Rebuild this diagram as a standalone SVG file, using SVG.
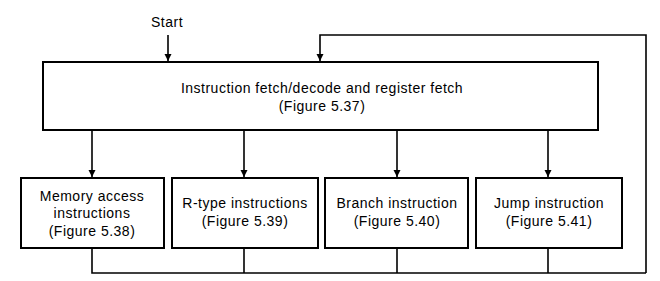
<svg xmlns="http://www.w3.org/2000/svg" width="660" height="281" viewBox="0 0 660 281">
<style>
.box{fill:#fff;stroke:#000;stroke-width:2}
.ln{fill:none;stroke:#000;stroke-width:1.6}
text{font-family:"Liberation Sans",Arial,sans-serif;font-size:14px;letter-spacing:0.5px;fill:#000;text-anchor:middle}
</style>
<defs>
<marker id="ah" markerWidth="8" markerHeight="8" refX="7" refY="4" orient="auto" markerUnits="userSpaceOnUse">
<path d="M0,0.5 L7,4 L0,7.5 Z" fill="#000"/>
</marker>
</defs>
<rect width="660" height="281" fill="#fff"/>
<g id="connectors">
<path class="ln" d="M168,35 V61" marker-end="url(#ah)"/>
<path class="ln" d="M646,273 V35 H320 V61" marker-end="url(#ah)"/>
<path class="ln" d="M92,131 V177" marker-end="url(#ah)"/>
<path class="ln" d="M244,131 V177" marker-end="url(#ah)"/>
<path class="ln" d="M397,131 V177" marker-end="url(#ah)"/>
<path class="ln" d="M548,131 V177" marker-end="url(#ah)"/>
<path class="ln" d="M92,248 V273 H646"/>
<path class="ln" d="M244,248 V273"/>
<path class="ln" d="M397,248 V273"/>
<path class="ln" d="M548,248 V273"/>
</g>
<g id="start"><text x="167" y="27">Start</text></g>
<g id="fetch">
<rect class="box" x="43" y="62" width="555" height="68"/>
<text x="322" y="93">Instruction fetch/decode and register fetch</text>
<text x="322" y="111">(Figure 5.37)</text>
</g>
<g id="memory">
<rect class="box" x="21" y="178" width="143" height="70"/>
<text x="92" y="201">Memory access</text>
<text x="92" y="218">instructions</text>
<text x="92" y="236">(Figure 5.38)</text>
</g>
<g id="rtype">
<rect class="box" x="172" y="178" width="146" height="70"/>
<text x="245" y="208">R-type instructions</text>
<text x="245" y="226">(Figure 5.39)</text>
</g>
<g id="branch">
<rect class="box" x="325" y="178" width="143" height="70"/>
<text x="397" y="208">Branch instruction</text>
<text x="397" y="226">(Figure 5.40)</text>
</g>
<g id="jump">
<rect class="box" x="476" y="178" width="146" height="70"/>
<text x="549" y="208">Jump instruction</text>
<text x="549" y="226">(Figure 5.41)</text>
</g>
</svg>
